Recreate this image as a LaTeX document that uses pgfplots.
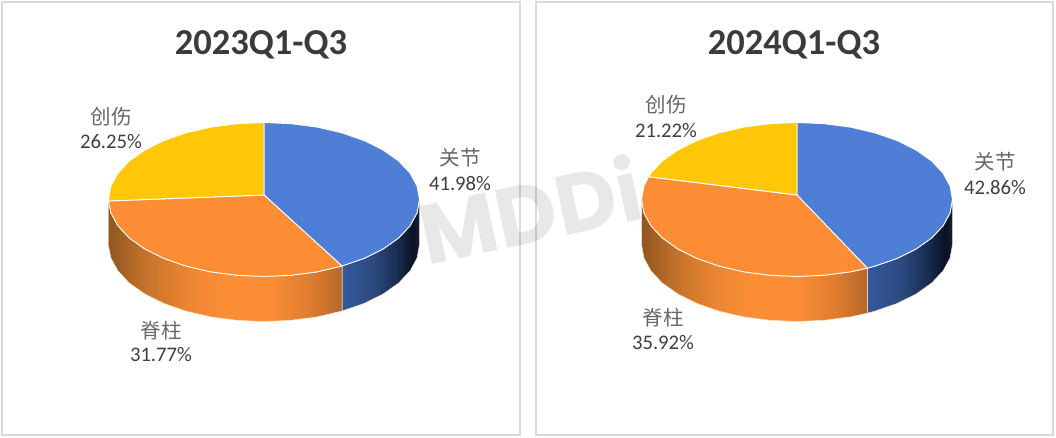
\documentclass[border=0pt]{standalone}
\usepackage{pgfplots}
\pgfplotsset{compat=1.18}
\usepackage{fontspec}
\setmainfont{Carlito}
\newfontfamily\cjk{Noto Sans CJK SC}
\newfontfamily\wm{Poppins}
\definecolor{pblue}{HTML}{4F7ED6}
\definecolor{porange}{HTML}{FD8D35}
\definecolor{pyellow}{HTML}{FFC707}
\definecolor{frame}{HTML}{D9D9D9}
\definecolor{ttl}{HTML}{3B3B3B}
\definecolor{pct}{HTML}{404040}
\definecolor{cjkc}{HTML}{666666}
\definecolor{oa}{HTML}{8F5620}
\definecolor{ob}{HTML}{C8752B}
\definecolor{oc}{HTML}{EE8732}
\definecolor{od}{HTML}{FB8E35}
\definecolor{oe}{HTML}{F98C34}
\definecolor{of}{HTML}{DF7D2F}
\definecolor{og}{HTML}{B5682B}
\definecolor{ba}{HTML}{35599F}
\definecolor{bb}{HTML}{2B4A80}
\definecolor{bc}{HTML}{1A2D52}
\definecolor{bd}{HTML}{0A1222}
\definecolor{be}{HTML}{142040}
\pgfdeclarehorizontalshading{orangewall}{100bp}{
 color(0bp)=(oa); color(25bp)=(oa); color(33.5bp)=(ob); color(42.5bp)=(oc);
 color(50bp)=(od); color(60bp)=(oe); color(68bp)=(of); color(75bp)=(og); color(100bp)=(og)}
\pgfdeclarehorizontalshading{bluewall}{100bp}{
 color(0bp)=(ba); color(25bp)=(ba); color(45bp)=(bb); color(60bp)=(bc);
 color(71bp)=(bd); color(75bp)=(be); color(100bp)=(be)}
\pgfplotsset{panel/.style={
  scale only axis, xtick=\empty, ytick=\empty,
  axis line style={color=frame,line width=2pt},
  anchor=south west,
  title style={font=\fontsize{36.5}{36.5}\selectfont\bfseries,text=ttl,anchor=base,yshift=-6pt}}}
\tikzset{
  lc/.style={font=\fontsize{20.5}{20.5}\selectfont\cjk,text=cjkc,anchor=center,inner sep=0pt},
  lp/.style={font=\fontsize{20.7}{20.7}\selectfont,text=pct,anchor=center,inner sep=0pt},
  edge/.style={draw=white,line width=0.9pt,line join=round},
  wall/.style={draw=white!80!orange,line width=0.5pt,line join=round}}
\begin{document}
\begin{tikzpicture}
\useasboundingbox (0,0) rectangle (1056pt,438pt);
% ---------- 2023Q1-Q3: joints 41.98, spine 31.77, trauma 26.25
\begin{axis}[panel,at={(2pt,3pt)},width=518pt,height=433pt,
  xmin=-262,xmax=256,ymin=-235.5,ymax=197.5,
  title={2023Q1-Q3},title style={at={(axis description cs:0.5,0.8776)}}]
\addplot[shade,shading=bluewall,wall] coordinates {(155.5,0)(153.1,-13.4)(146.1,-26.3)(134.7,-38.5)(119.1,-49.5)(100,-59)(78,-66.5)
 (78,-111.5)(100,-104)(119.1,-94.5)(134.7,-83.5)(146.1,-71.3)(153.1,-58.4)(155.5,-45)} -- cycle;
\addplot[shade,shading=orangewall,wall] coordinates {(78,-66.5)(53.2,-72.4)(27,-75.8)(0,-77)(-27,-75.8)(-53.2,-72.4)(-77.75,-66.7)(-100,-59)(-119.1,-49.5)(-134.7,-38.5)(-146.1,-26.3)(-153.1,-13.4)(-155.5,-1.5)
 (-155.5,-46.5)(-153.1,-58.4)(-146.1,-71.3)(-134.7,-83.5)(-119.1,-94.5)(-100,-104)(-77.75,-111.7)(-53.2,-117.4)(-27,-120.8)(0,-122)(27,-120.8)(53.2,-117.4)(78,-111.5)} -- cycle;
\addplot[fill=pblue,edge] coordinates {(0,4.5)(0,77)(27,75.8)(53.2,72.4)(77.75,66.7)(100,59)(119.1,49.5)(134.7,38.5)(146.1,26.3)(153.1,13.4)(155.5,0)(153.1,-13.4)(146.1,-26.3)(134.7,-38.5)(119.1,-49.5)(100,-59)(78,-66.5)} -- cycle;
\addplot[fill=porange,edge] coordinates {(0,4.5)(78,-66.5)(53.2,-72.4)(27,-75.8)(0,-77)(-27,-75.8)(-53.2,-72.4)(-77.75,-66.7)(-100,-59)(-119.1,-49.5)(-134.7,-38.5)(-146.1,-26.3)(-153.1,-13.4)(-155.5,-1.5)} -- cycle;
\addplot[fill=pyellow,edge] coordinates {(0,4.5)(-155.5,-1.5)(-155.5,0)(-153.1,13.4)(-146.1,26.3)(-134.7,38.5)(-119.1,49.5)(-100,59)(-77.75,66.7)(-53.2,72.4)(-27,75.8)(0,77)} -- cycle;
\node[lc] at (axis cs:196,41.5) {关节};
\node[lp] at (axis cs:196,15.5) {41.98\%};
\node[lc] at (axis cs:-103,-131.5) {脊柱};
\node[lp] at (axis cs:-103,-155.5) {31.77\%};
\node[lc] at (axis cs:-153,82.5) {创伤};
\node[lp] at (axis cs:-153,57.5) {26.25\%};
\end{axis}
% ---------- 2024Q1-Q3: joints 42.86, spine 35.92, trauma 21.22
\begin{axis}[panel,at={(536pt,3pt)},width=517pt,height=433pt,
  xmin=-261,xmax=256,ymin=-235.5,ymax=197.5,
  title={2024Q1-Q3},title style={at={(axis description cs:0.499,0.8776)}}]
\addplot[shade,shading=bluewall,wall] coordinates {(155.5,0)(153.1,-13.4)(146.1,-26.3)(134.7,-38.5)(119.1,-49.5)(100,-59)(77.75,-66.7)(70.3,-68.7)
 (70.3,-113.7)(77.75,-111.7)(100,-104)(119.1,-94.5)(134.7,-83.5)(146.1,-71.3)(153.1,-58.4)(155.5,-45)} -- cycle;
\addplot[shade,shading=orangewall,wall] coordinates {(70.3,-68.7)(53.2,-72.4)(27,-75.8)(0,-77)(-27,-75.8)(-53.2,-72.4)(-77.75,-66.7)(-100,-59)(-119.1,-49.5)(-134.7,-38.5)(-146.1,-26.3)(-153.1,-13.4)(-155.5,0)
 (-155.5,-45)(-153.1,-58.4)(-146.1,-71.3)(-134.7,-83.5)(-119.1,-94.5)(-100,-104)(-77.75,-111.7)(-53.2,-117.4)(-27,-120.8)(0,-122)(27,-120.8)(53.2,-117.4)(70.3,-113.7)} -- cycle;
\addplot[fill=pblue,edge] coordinates {(0,4.5)(0,77)(27,75.8)(53.2,72.4)(77.75,66.7)(100,59)(119.1,49.5)(134.7,38.5)(146.1,26.3)(153.1,13.4)(155.5,0)(153.1,-13.4)(146.1,-26.3)(134.7,-38.5)(119.1,-49.5)(100,-59)(77.75,-66.7)(70.3,-68.7)} -- cycle;
\addplot[fill=porange,edge] coordinates {(0,4.5)(70.3,-68.7)(53.2,-72.4)(27,-75.8)(0,-77)(-27,-75.8)(-53.2,-72.4)(-77.75,-66.7)(-100,-59)(-119.1,-49.5)(-134.7,-38.5)(-146.1,-26.3)(-153.1,-13.4)(-155.5,0)(-153.1,13.4)(-148.5,22.8)} -- cycle;
\addplot[fill=pyellow,edge] coordinates {(0,4.5)(-148.5,22.8)(-146.1,26.3)(-134.7,38.5)(-119.1,49.5)(-100,59)(-77.75,66.7)(-53.2,72.4)(-27,75.8)(0,77)} -- cycle;
\node[lc] at (axis cs:198,37.5) {关节};
\node[lp] at (axis cs:198,11.5) {42.86\%};
\node[lc] at (axis cs:-134,-118.5) {脊柱};
\node[lp] at (axis cs:-134,-143.5) {35.92\%};
\node[lc] at (axis cs:-131,94.5) {创伤};
\node[lp] at (axis cs:-131,68.5) {21.22\%};
\end{axis}
\node[rotate=12,text=black,text opacity=0.09,inner sep=0pt,anchor=center,font=\fontsize{84}{84}\selectfont\wm\bfseries] at (530pt,229pt) {MDDi};
\end{tikzpicture}
\end{document}
